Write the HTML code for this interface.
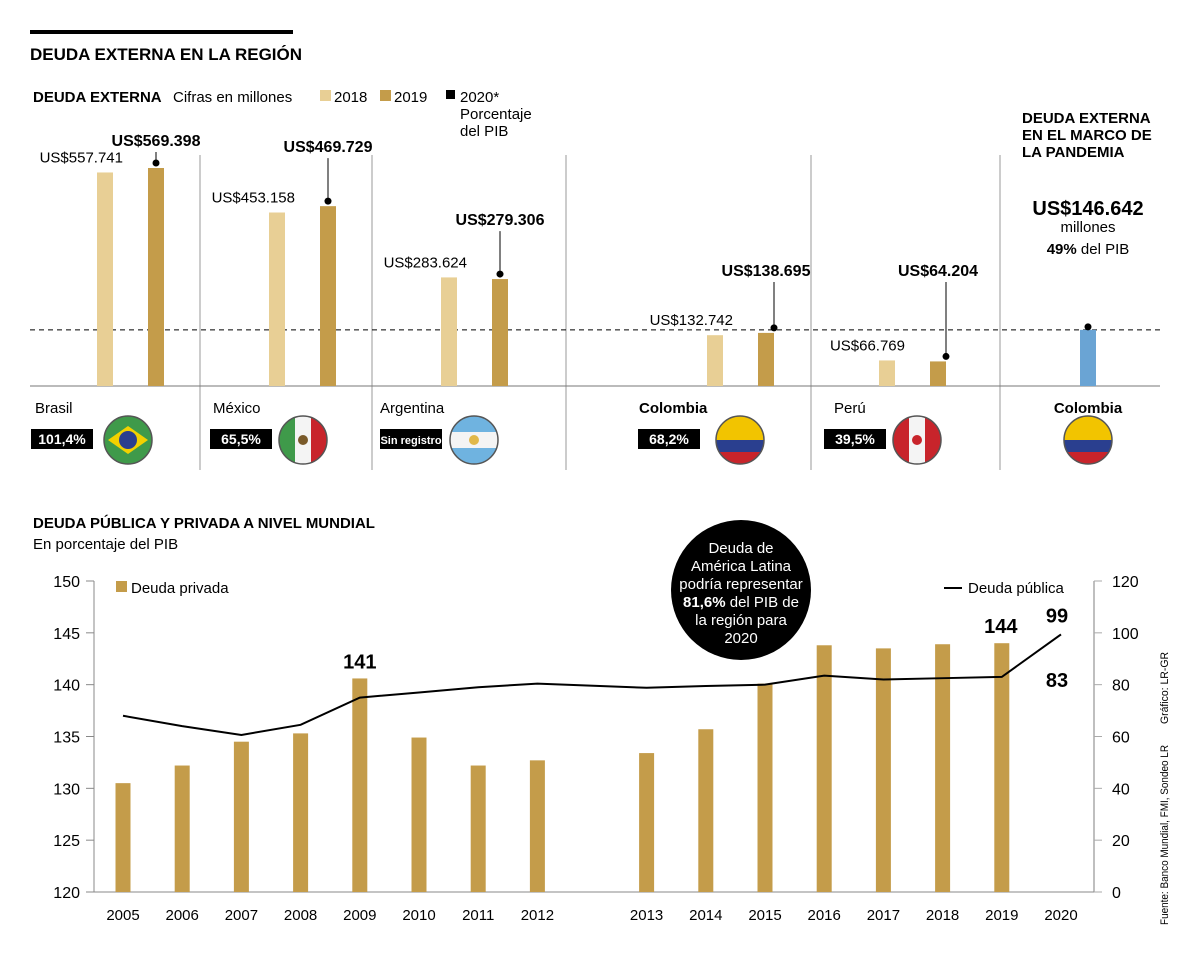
<!DOCTYPE html>
<html><head><meta charset="utf-8">
<style>
html,body{margin:0;padding:0;background:#fff;}
svg{display:block;font-family:"Liberation Sans",sans-serif;}
</style></head>
<body>
<svg id="chart" width="1200" height="957" viewBox="0 0 1200 957" xmlns="http://www.w3.org/2000/svg">
<rect x="30" y="30" width="263" height="4" fill="#000"/>
<text x="30" y="60" font-size="17" font-weight="bold">DEUDA EXTERNA EN LA REGIÓN</text>
<text x="33" y="102" font-size="15" font-weight="bold">DEUDA EXTERNA</text>
<text x="173" y="102" font-size="15">Cifras en millones</text>
<g>
<rect x="320" y="90" width="11" height="11" fill="#e8cf95"/>
<text x="334" y="102" font-size="15">2018</text>
<rect x="380" y="90" width="11" height="11" fill="#c49c4a"/>
<text x="394" y="102" font-size="15">2019</text>
<rect x="446" y="90" width="9" height="9" fill="#000"/>
<text x="460" y="102" font-size="15">2020*</text>
<text x="460" y="119" font-size="15">Porcentaje</text>
<text x="460" y="136" font-size="15">del PIB</text>
</g>
<g font-size="15" font-weight="bold">
<text x="1022" y="123">DEUDA EXTERNA</text>
<text x="1022" y="140">EN EL MARCO DE</text>
<text x="1022" y="157">LA PANDEMIA</text>
</g>
<text x="1088" y="215" font-size="20" font-weight="bold" text-anchor="middle">US$146.642</text>
<text x="1088" y="232" font-size="15" text-anchor="middle">millones</text>
<text x="1088" y="254" font-size="15" text-anchor="middle"><tspan font-weight="bold">49%</tspan> del PIB</text>
<g id="topchart"></g>
<g id="bottomchart"></g>
<text x="33" y="528" font-size="15" font-weight="bold">DEUDA PÚBLICA Y PRIVADA A NIVEL MUNDIAL</text>
<text x="33" y="549" font-size="15">En porcentaje del PIB</text>
<g>
<circle cx="741" cy="590" r="70" fill="#000"/>
<g fill="#fff" font-size="15" text-anchor="middle">
<text x="741" y="553">Deuda de</text>
<text x="741" y="571">América Latina</text>
<text x="741" y="589">podría representar</text>
<text x="741" y="607"><tspan font-weight="bold">81,6%</tspan> del PIB de</text>
<text x="741" y="625">la región para</text>
<text x="741" y="643">2020</text>
</g></g>
<text transform="translate(1168,724) rotate(-90)" font-size="11" textLength="72" lengthAdjust="spacingAndGlyphs">Gráfico: LR-GR</text>
<text transform="translate(1168,925) rotate(-90)" font-size="11" textLength="180" lengthAdjust="spacingAndGlyphs">Fuente: Banco Mundial, FMI, Sondeo LR</text>
</svg>
<script>
const countries=["Brasil","México","Argentina","Colombia","Perú"];
const debt2018=[557741,453158,283624,132742,66769];
const debt2019=[569398,469729,279306,138695,64204];
const label2018=["US$557.741","US$453.158","US$283.624","US$132.742","US$66.769"];
const label2019=["US$569.398","US$469.729","US$279.306","US$138.695","US$64.204"];
const pibLabels=["101,4%","65,5%","Sin registro","68,2%","39,5%"];
const pandemicDebt=146642;

const years=["2005","2006","2007","2008","2009","2010","2011","2012","2013","2014","2015","2016","2017","2018","2019","2020"];
const privada=[130.5,132.2,134.5,135.3,140.6,134.9,132.2,132.7,133.4,135.7,140.1,143.8,143.5,143.9,144.0,null];
const publica=[68,64,60.6,64.5,75,77,79,80.4,78.8,79.5,80,83.5,82,82.5,83,99.4];
const leftTicks=[120,125,130,135,140,145,150];
const rightTicks=[0,20,40,60,80,100,120];

const NS="http://www.w3.org/2000/svg";
function mk(parent,tag,attrs,text){const e=document.createElementNS(NS,tag);for(const k in attrs)e.setAttribute(k,attrs[k]);if(text!==undefined)e.textContent=text;parent.appendChild(e);return e;}

const flagFills=[['#3f9a4a','#3f9a4a','#3f9a4a'],['#3f9a4a','#f4f4f4','#c8242b'],['#6fb3e0','#f4f4f4','#6fb3e0'],['#f2c400','#2a3f8f','#c8242b'],['#c8242b','#f4f4f4','#c8242b']];
let clipN=0;
function drawFlag(g,cx,cy,i){
 const id='clip'+(clipN++);
 const cp=mk(g,'clipPath',{id:id});mk(cp,'circle',{cx:cx,cy:cy,r:24});
 const gg=mk(g,'g',{'clip-path':'url(#'+id+')'});
 const f=flagFills[i];
 if(i==0){mk(gg,'rect',{x:cx-24,y:cy-24,width:48,height:48,fill:'#3f9a4a'});mk(gg,'polygon',{points:`${cx-20},${cy} ${cx},${cy-14} ${cx+20},${cy} ${cx},${cy+14}`,fill:'#f2d100'});mk(gg,'circle',{cx:cx,cy:cy,r:9,fill:'#2a3f8f'});}
 else if(i==1||i==4){[0,1,2].forEach(k=>mk(gg,'rect',{x:cx-24+k*16,y:cy-24,width:16,height:48,fill:f[k]}));mk(gg,'circle',{cx:cx,cy:cy,r:5,fill:i==1?'#7a5a2a':'#c8242b'});}
 else if(i==2){[0,1,2].forEach(k=>mk(gg,'rect',{x:cx-24,y:cy-24+k*16,width:48,height:16,fill:f[k]}));mk(gg,'circle',{cx:cx,cy:cy,r:5,fill:'#e0b84a'});}
 else{mk(gg,'rect',{x:cx-24,y:cy-24,width:48,height:24,fill:'#f2c400'});mk(gg,'rect',{x:cx-24,y:cy,width:48,height:12,fill:'#2a3f8f'});mk(gg,'rect',{x:cx-24,y:cy+12,width:48,height:12,fill:'#c8242b'});}
 mk(g,'circle',{cx:cx,cy:cy,r:24,fill:'none',stroke:'#555','stroke-width':1.5});
}

// top chart
const topG=document.getElementById('topchart');
const base=386, ky=218/569398;
const yT=v=>base-v*ky;
const xSlot=i=>97+172*i+(i>=3?94:0);
[200,372,566,811,1000].forEach((x)=>{const l=mk(topG,'line',{x1:x,y1:155,x2:x,y2:470,stroke:'#999','stroke-width':1});

});
let ax=mk(topG,'line',{x1:30,y1:base,x2:1160,y2:base,stroke:'#777','stroke-width':1});


let dl=mk(topG,'line',{x1:30,y1:yT(pandemicDebt),x2:1160,y2:yT(pandemicDebt),stroke:'#000','stroke-dasharray':'5,4','stroke-width':1});


countries.forEach((c,i)=>{
 const x=xSlot(i);
 const b1=mk(topG,'rect',{x:x,y:yT(debt2018[i]),width:16,height:debt2018[i]*ky,fill:'#e8cf95'});
 
 
 const b2=mk(topG,'rect',{x:x+51,y:yT(debt2019[i]),width:16,height:debt2019[i]*ky,fill:'#c49c4a'});
 
 
 const t1=mk(topG,'text',{x:x+26,y:yT(debt2018[i])-10,'font-size':15,'text-anchor':'end'},label2018[i]);
 
 
 const ly=i<1?yT(debt2019[i])-18:(i<3?yT(debt2019[i])-50:Math.min(yT(debt2019[i])-50,280));
 const t2=mk(topG,'text',{x:x+59,y:ly-4,'font-size':16,'font-weight':'bold','text-anchor':'middle'},label2019[i]);
 
 
 const lx=i>=3?x+67:x+59;
 const ll=mk(topG,'line',{x1:lx,y1:ly+2,x2:lx,y2:yT(debt2019[i])-5,stroke:'#000','stroke-width':1});
 
 
 const d=mk(topG,'circle',{cx:lx,cy:yT(debt2019[i])-5,r:3.5,fill:'#000'});
 
 
 const nx=[35,213,380,639,834][i];
 const n=mk(topG,'text',{x:nx,y:413,'font-size':15,'font-weight':i==3?'bold':'normal'},c);
 
 
 const bx=[31,210,380,638,824][i];
 const bw=62;
 const br=mk(topG,'rect',{x:bx,y:429,width:bw,height:20,fill:'#000'});
 
 
 const bt=mk(topG,'text',{x:bx+bw/2,y:444,'font-size':i==2?11:14,'font-weight':'bold',fill:'#fff','text-anchor':'middle'},pibLabels[i]);
 
 
 const fx=[128,303,474,740,917][i];
 const f=mk(topG,'g',{});
 
 
 drawFlag(f,fx,440,i);
});
const pb=mk(topG,'rect',{x:1080,y:yT(pandemicDebt),width:16,height:pandemicDebt*ky,fill:'#6aa4d4'});


const pd=mk(topG,'circle',{cx:1088,cy:yT(pandemicDebt)-3,r:3.5,fill:'#000'});


const pn=mk(topG,'text',{x:1088,y:413,'font-size':15,'font-weight':'bold','text-anchor':'middle'},'Colombia');


const pf=mk(topG,'g',{});


drawFlag(pf,1088,440,3);

// bottom chart
const botG=document.getElementById('bottomchart');
const y0=892,y1=581;
const yL=v=>y0-(v-120)/30*(y0-y1);
const yR=v=>y0-v/120*(y0-y1);
const xB=i=>123+59.2*i+(i>=8?50:0);
let a1=mk(botG,'line',{x1:94,y1:y1,x2:94,y2:y0,stroke:'#888'});


let a2=mk(botG,'line',{x1:1094,y1:y1,x2:1094,y2:y0,stroke:'#aaa','stroke-width':1.5});


let a3=mk(botG,'line',{x1:94,y1:y0,x2:1094,y2:y0,stroke:'#888'});


leftTicks.forEach(v=>{
 mk(botG,'line',{x1:86,y1:yL(v),x2:94,y2:yL(v),stroke:'#888'});
 const t=mk(botG,'text',{x:80,y:yL(v)+6,'font-size':16,'text-anchor':'end'},v);
 
 
});
rightTicks.forEach(v=>{
 mk(botG,'line',{x1:1094,y1:yR(v),x2:1102,y2:yR(v),stroke:'#aaa'});
 const t=mk(botG,'text',{x:1112,y:yR(v)+6,'font-size':16},v);
 
 
});
years.forEach((yr,i)=>{
 const t=mk(botG,'text',{x:xB(i),y:920,'font-size':15,'text-anchor':'middle'},yr);
 
 
 if(privada[i]!==null){
  const r=mk(botG,'rect',{x:xB(i)-7.5,y:yL(privada[i]),width:15,height:y0-yL(privada[i]),fill:'#c49c4a'});
  
  
 }
});
const pts=publica.map((v,i)=>xB(i)+','+yR(v)).join(' ');
const pl=mk(botG,'polyline',{points:pts,fill:'none',stroke:'#000','stroke-width':2});


const lab=(txt,x,y)=>{const t=mk(botG,'text',{x:x,y:y,'font-size':20,'font-weight':'bold','text-anchor':'middle'},txt);};
lab(Math.round(privada[4]),xB(4),yL(privada[4])-10);
lab(Math.round(privada[14]),xB(14)-1,yL(privada[14])-10);
lab(Math.round(publica[15]),xB(15)-4,yR(publica[15])-12);
lab(Math.round(publica[14]),xB(15)-4,yR(publica[14])+10);
const ls=mk(botG,'rect',{x:116,y:581,width:11,height:11,fill:'#c49c4a'});


const lt=mk(botG,'text',{x:131,y:593,'font-size':15},'Deuda privada');


const ll2=mk(botG,'line',{x1:944,y1:588,x2:962,y2:588,stroke:'#000','stroke-width':2});


const lt2=mk(botG,'text',{x:968,y:593,'font-size':15},'Deuda pública');


</script>
</body></html>
